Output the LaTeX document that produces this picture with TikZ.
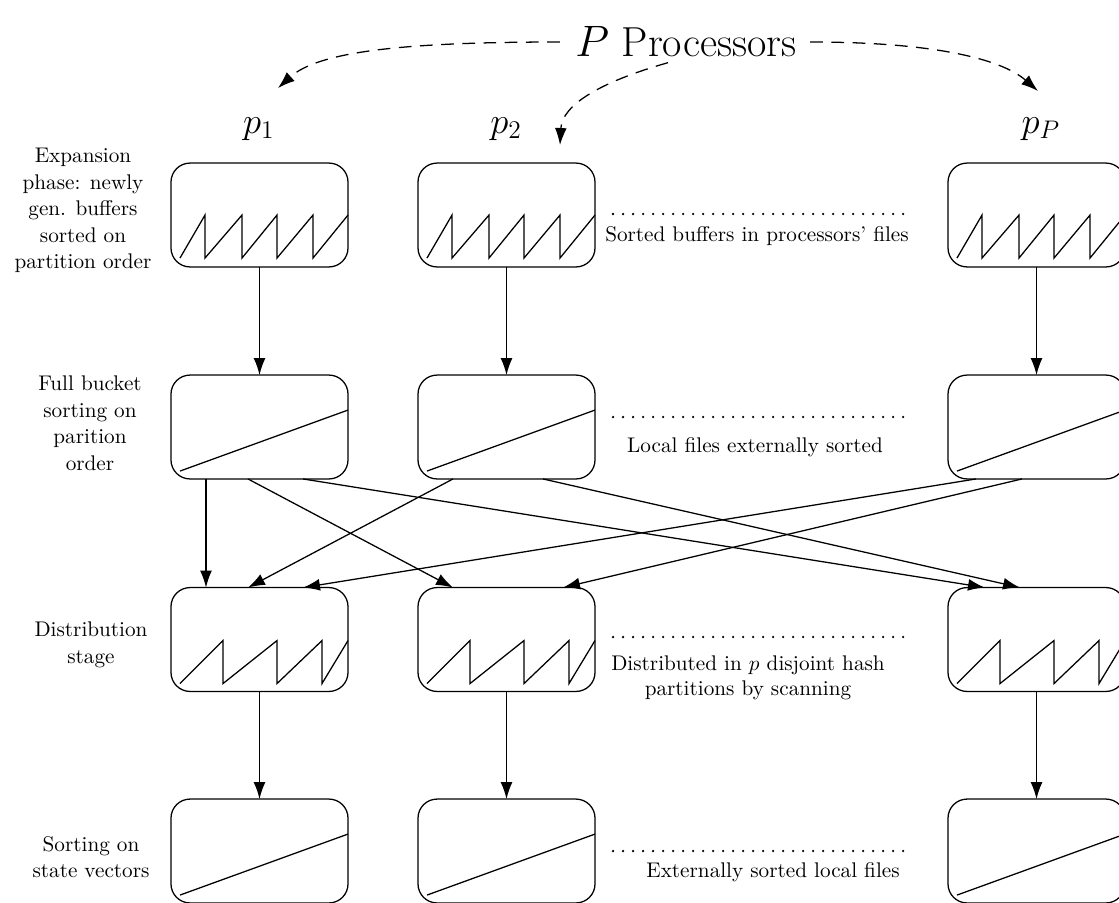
\documentclass[tikz,border=0pt]{standalone}
\usetikzlibrary{arrows.meta}

% buffer contents: sawtooth of sorted runs, and one fully sorted ramp
\newcommand\sawbuf[1]{\draw[trace] (#1.north west) ++(9,95) -- ++(25,-43) -- ++(0,43)
  -- ++(37,-43) -- ++(0,43) -- ++(35,-43) -- ++(0,43) -- ++(36,-43) -- ++(0,43) -- ++(35,-43);}
\newcommand\sawdist[1]{\draw[trace] (#1.north west) ++(9,96) -- ++(43,-43) -- ++(0,43)
  -- ++(54,-43) -- ++(0,43) -- ++(45,-43) -- ++(0,43) -- ++(26,-43);}
\newcommand\rampline[1]{\draw[trace] (#1.north west) ++(9,96) -- ++(168,-61);}

\begin{document}
\begin{tikzpicture}[x=0.4717pt,y=-0.4717pt,
  box/.style={draw, rounded corners=9pt, minimum width=83.5pt, minimum height=49pt,
    inner sep=0pt, outer sep=0pt, line width=0.6pt},
  trace/.style={line width=0.6pt},
  flow/.style={-{Latex[length=8pt,width=5.6pt]}, line width=0.6pt},
  hint/.style={flow, dash pattern=on 6pt off 4pt},
  dotrow/.style={line width=1.2pt, line cap=round, dash pattern=on 0pt off 4.72pt},
  phase/.style={align=center, font=\fontsize{10}{12.5}\selectfont},
  note/.style={align=center, font=\fontsize{10}{12}\selectfont},
  big/.style={font=\fontsize{19.8}{24}\selectfont},
  proc/.style={font=\fontsize{18.5}{22}\selectfont, anchor=base}
]
\useasboundingbox (0,0) rectangle (1119,902);

% title and processor labels
\node[big] (title) at (686,42) {$P$ Processors};
\node[proc] (h1) at (259,133) {$p_1$};
\node[proc] (h2) at (506,133) {$p_2$};
\node[proc] (h3) at (1041,133) {$p_P$};
\coordinate (tip1) at (278,88);
\coordinate (tip2) at (560,145);
\coordinate (tip3) at (1038,91);
\draw[hint] ([shift={(-8,0)}]title.west) .. controls (400,42) and (318,52) .. (tip1);
\draw[hint] ([shift={(-18,-2)}]title.south) .. controls (600,82) and (562,105) .. (tip2);
\draw[hint] ([shift={(6,0)}]title.east) .. controls (930,42) and (1000,58) .. (tip3);

% processor files, one row per phase
\foreach \c/\x in {1/259.5, 2/506.5, 3/1036.5} {
  \node[box] (a\c) at (\x,215) {};
  \node[box] (b\c) at (\x,427) {};
  \node[box] (c\c) at (\x,639.5) {};
  \node[box] (d\c) at (\x,851) {};
}
\foreach \c in {1,2,3} {
  \sawbuf{a\c}
  \rampline{b\c}
  \sawdist{c\c}
  \rampline{d\c}
  \draw[flow] (a\c.south) -- (b\c.north);
  \draw[flow] (c\c.south) -- (d\c.north);
}

% all-to-all distribution
\draw[flow] ([shift={(35,0)}]b1.south west) -- ([shift={(35,0)}]c1.north west);
\draw[flow] ([shift={(77,0)}]b1.south west) -- ([shift={(35,0)}]c2.north west);
\draw[flow] ([shift={(132,0)}]b1.south west) -- ([shift={(37,0)}]c3.north west);
\draw[flow] ([shift={(35,0)}]b2.south west) -- ([shift={(77,0)}]c1.north west);
\draw[flow] ([shift={(125,0)}]b2.south west) -- ([shift={(72,0)}]c3.north west);
\draw[flow] ([shift={(28,0)}]b3.south west) -- ([shift={(132,0)}]c1.north west);
\draw[flow] ([shift={(74,0)}]b3.south west) -- ([shift={(145,0)}]c2.north west);

% phase descriptions
\node[phase] (l1) at (83,210.5) {Expansion\\phase: newly\\gen. buffers\\sorted on\\partition order};
\node[phase] (l2) at (90,423) {Full bucket\\sorting on\\parition\\order};
\node[phase] (l3) at (91,645) {Distribution\\stage};
\node[phase] (l4) at (91,857) {Sorting on\\state vectors};

% notes between the middle and last processor
\draw[dotrow] (613,214) -- (907,214);
\node[note] (n1) at (757,236) {Sorted buffers in processors' files};
\draw[dotrow] (613,417) -- (907,417);
\node[note] (n2) at (755,447) {Local files externally sorted};
\draw[dotrow] (613,637) -- (907,637);
\node[note] (n3) at (748,678) {Distributed in $p$ disjoint hash\\partitions by scanning};
\draw[dotrow] (613,851) -- (907,851);
\node[note] (n4) at (773,872) {Externally sorted local files};
\end{tikzpicture}
\end{document}
